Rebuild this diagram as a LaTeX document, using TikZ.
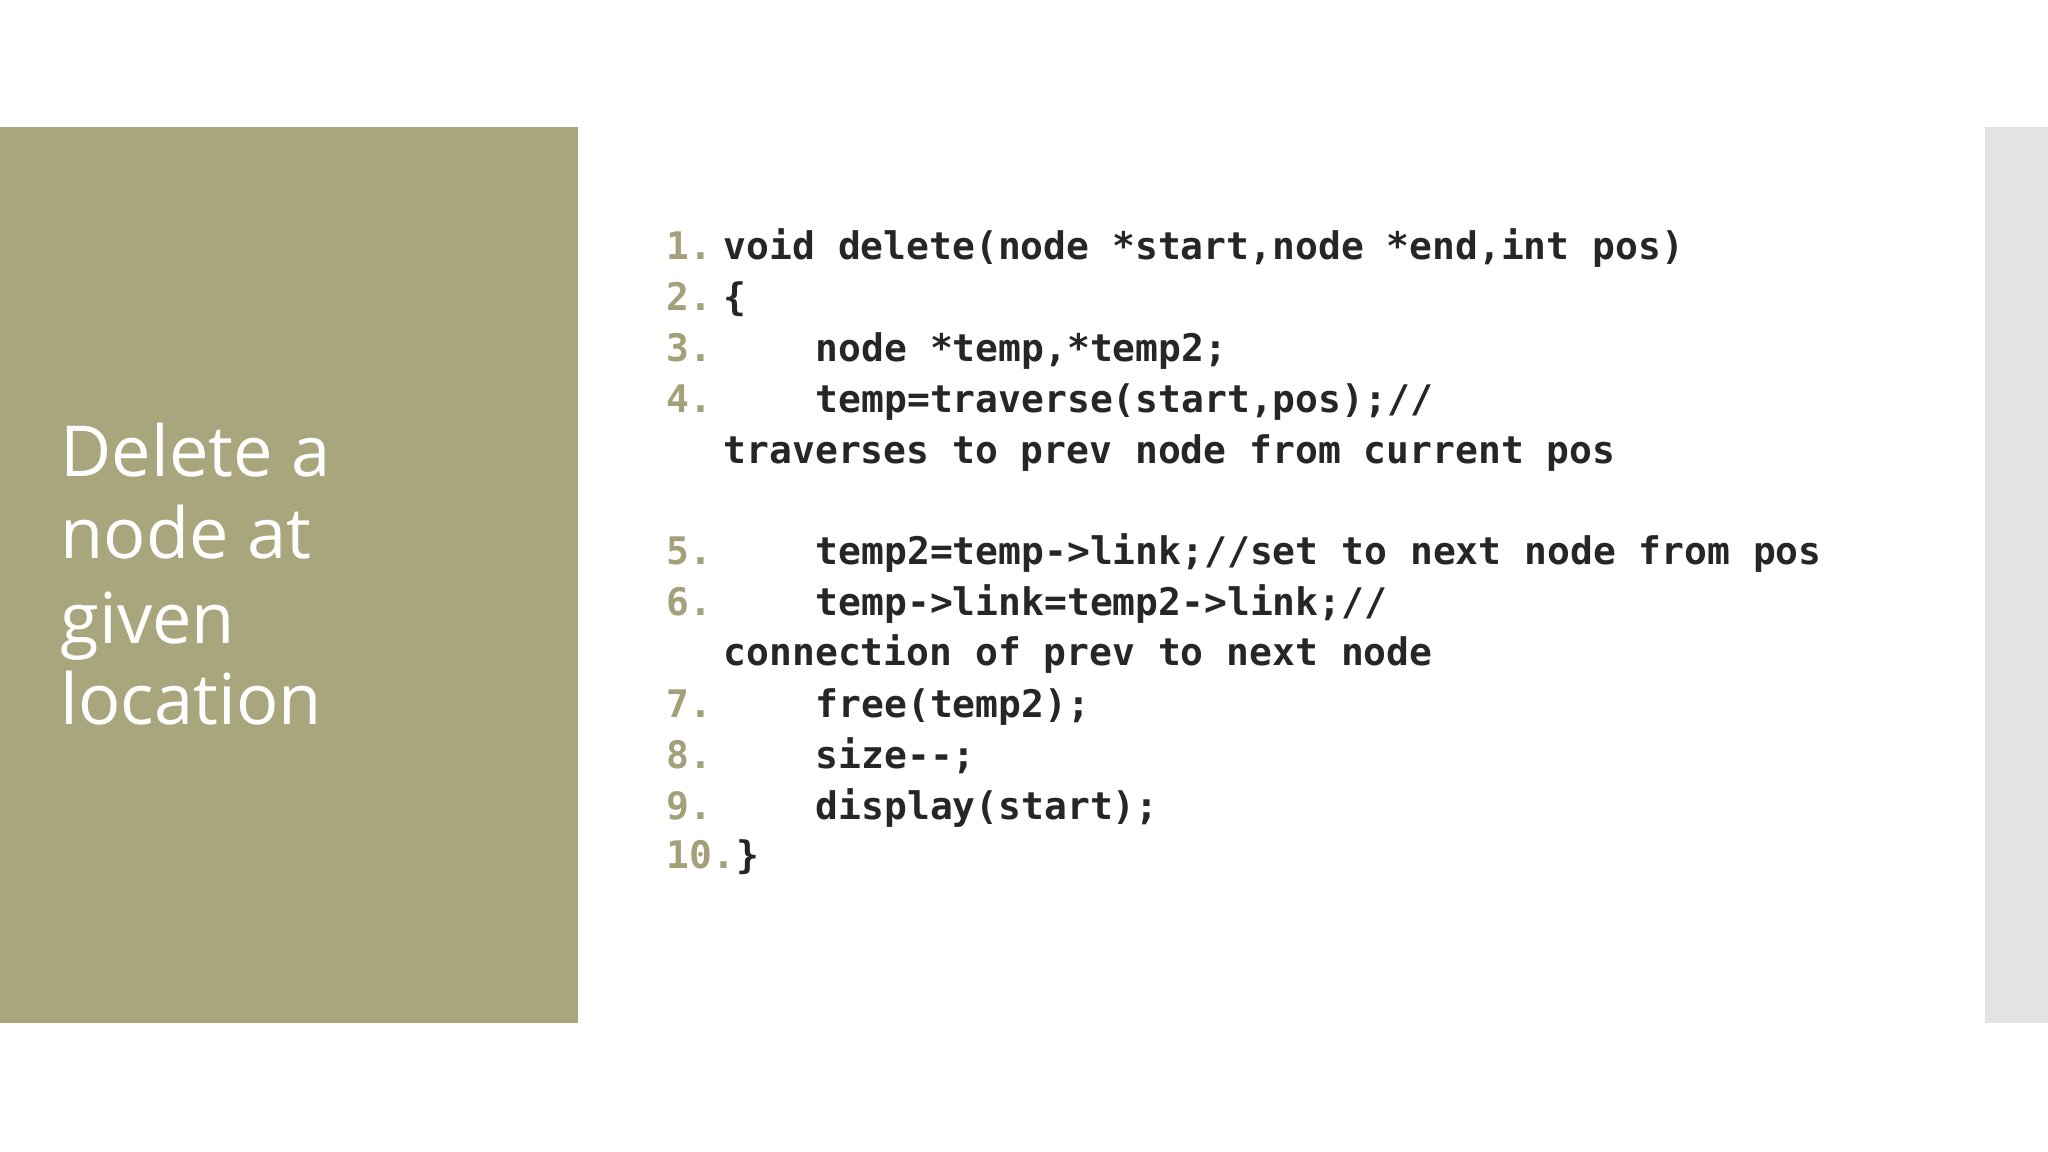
\documentclass[tikz,border=0pt]{standalone}
\usepackage{fontspec}
\setmainfont{Open Sans}
\newfontfamily\codefont{DejaVu Sans Mono Bold}
\definecolor{olive}{HTML}{A9A67E}
\definecolor{strip}{HTML}{E3E3E3}
\definecolor{codec}{HTML}{262626}
\definecolor{numc}{HTML}{A3A07A}
\begin{document}
\begin{tikzpicture}[x=0.01cm,y=-0.01cm,
  num/.style={anchor=base west,inner sep=0,text=numc,font=\codefont\fontsize{10.8}{13}\selectfont},
  code/.style={anchor=base west,inner sep=0,text=codec,font=\codefont\fontsize{10.8}{13}\selectfont},
  title/.style={anchor=base west,inner sep=0,text=white,font=\fontsize{20}{24}\selectfont}]
\useasboundingbox (0,0) rectangle (2048,1152);
\fill[white] (0,0) rectangle (2048,1152);
\fill[olive] (0,127) rectangle (578,1023);
\fill[strip] (1985,127) rectangle (2048,1023);
\node[title] (t1) at (60,477) {Delete a};
\node[title] (t2) at (60,559) {node at};
\node[title] (t3) at (60,643) {given};
\node[title] (t4) at (60,725) {location};
\foreach \n/\y in {1/260,2/311,3/362,4/413,5/564,6/615,7/717,8/768,9/819,10/868}
  \node[num] (n\n) at (666,\y) {\n.};
\node[code] (c1) at (723,260) {void delete(node *start,node *end,int pos)};
\node[code] (c2) at (723,311) {\{};
\node[code] (c3) at (815,362) {node *temp,*temp2;};
\node[code] (c4) at (815,413) {temp=traverse(start,pos);//};
\node[code] (c4b) at (723,464) {traverses to prev node from current pos};
\node[code] (c5) at (815,564) {temp2=temp->link;//set to next node from pos};
\node[code] (c6) at (815,615) {temp->link=temp2->link;//};
\node[code] (c6b) at (723,666) {connection of prev to next node};
\node[code] (c7) at (815,717) {free(temp2);};
\node[code] (c8) at (815,768) {size-{}-;};
\node[code] (c9) at (815,819) {display(start);};
\node[code] (c10) at (736,868) {\}};
\end{tikzpicture}
\end{document}
